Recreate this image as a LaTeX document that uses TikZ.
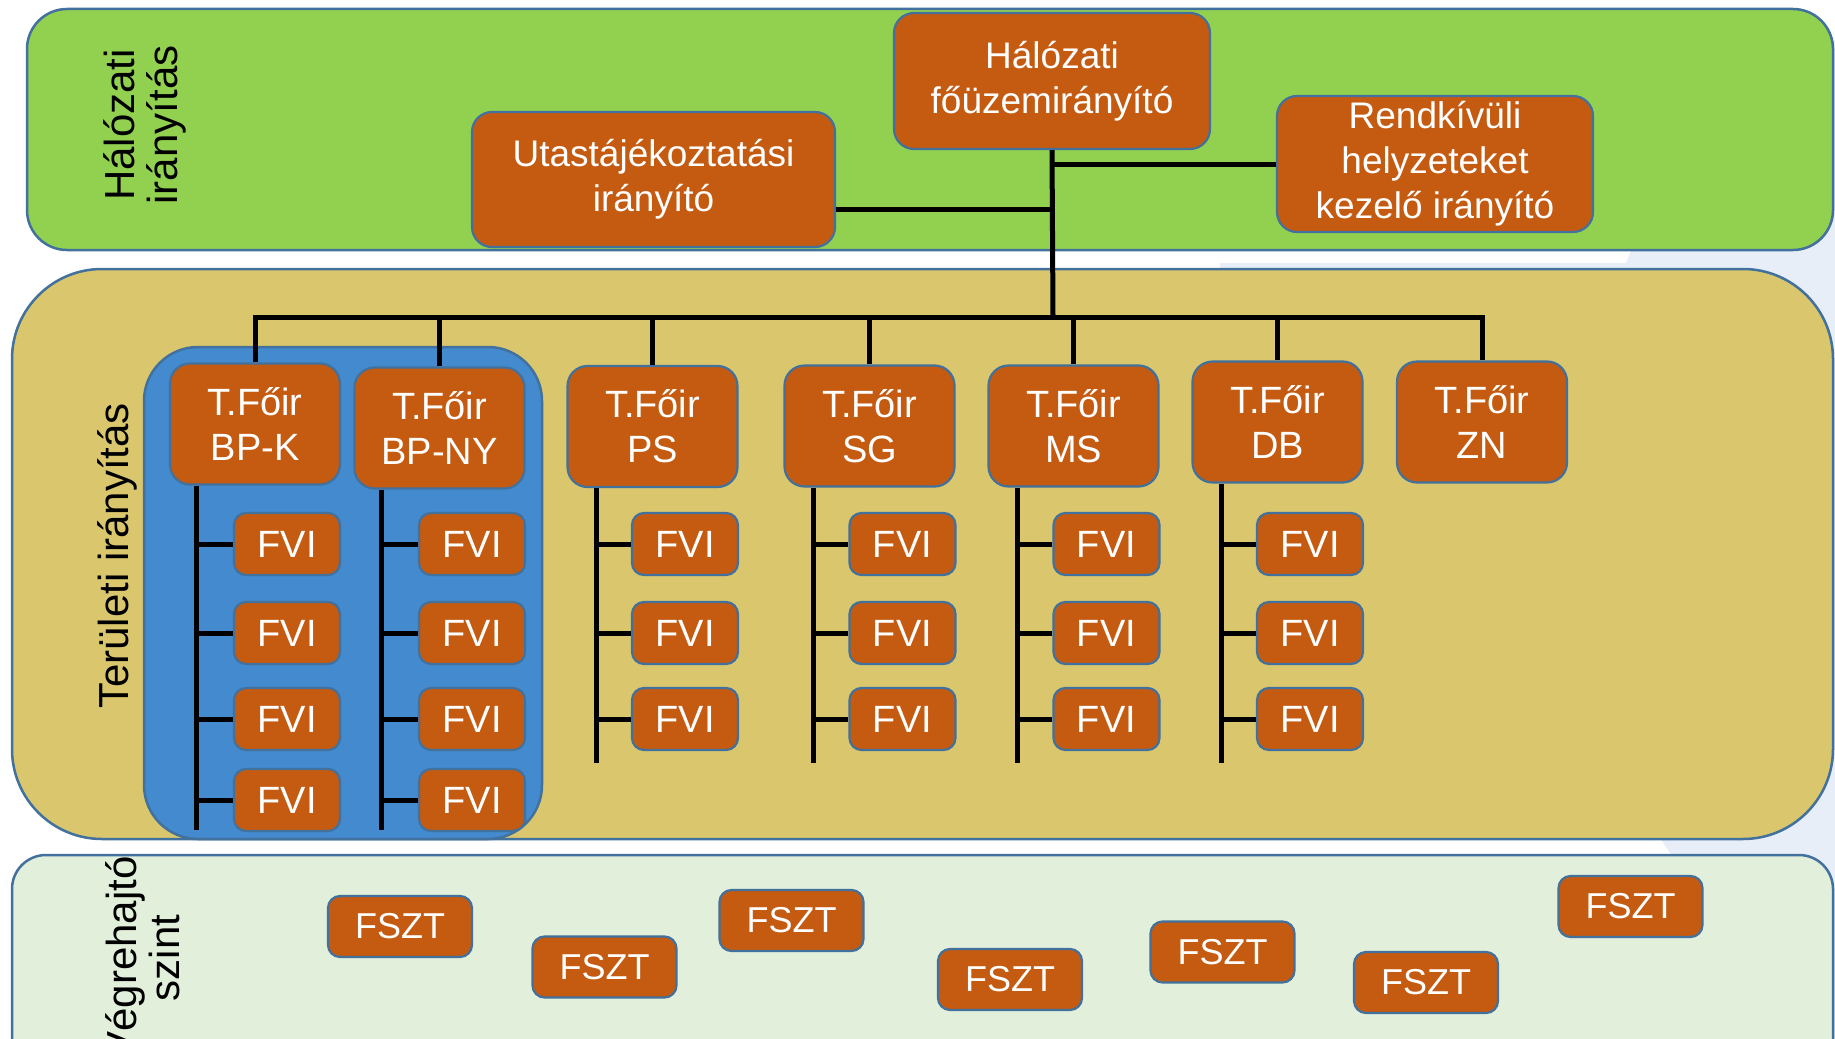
\documentclass[tikz,border=0pt]{standalone}
\usepackage{fontspec}
\setmainfont{Liberation Sans}
\definecolor{bord}{HTML}{41719C}
\definecolor{orng}{HTML}{C55A11}
\definecolor{grn}{HTML}{92D050}
\definecolor{ylw}{HTML}{DAC66C}
\definecolor{lgrn}{HTML}{E2EFDA}
\definecolor{blu}{HTML}{448ACF}
\definecolor{lbg}{HTML}{E8EEF7}
\begin{document}
\begin{tikzpicture}[x=0.5pt,y=-0.5pt,
  panel/.style={draw=bord, line width=1.25pt},
  box/.style={draw=bord, fill=orng, line width=1.1pt, text=white, inner sep=0pt, align=center, font=\fontsize{18.5}{22.5}\selectfont},
  topbox/.style={box, minimum width=158pt, minimum height=68pt, rounded corners=10pt},
  reg/.style={box, minimum width=85pt, minimum height=60.5pt, rounded corners=10pt, font=\fontsize{19}{22.5}\selectfont},
  fvi/.style={box, minimum width=53pt, minimum height=31pt, rounded corners=6pt, font=\fontsize{19}{22.5}\selectfont},
  fszt/.style={box, minimum width=72pt, minimum height=30.5pt, rounded corners=6pt, font=\fontsize{18}{22.5}\selectfont},
  conn/.style={draw=black, line width=2.5pt},
  lbl/.style={font=\fontsize{21}{21.5}\selectfont, rotate=90, align=center, text=black, inner sep=0pt}
]
\useasboundingbox (0,0) rectangle (1835,1038);
\clip (0,0) rectangle (1835,1038);
\fill[white] (0,0) rectangle (1835,1038);
% light background shape
\fill[lbg] (1220,263) -- (1626,263) -- (1632,248) -- (1835,40) -- (1835,1038) -- (1700,1038) -- (1672,856) -- (1660,838) -- (1500,560) -- (1624,268) -- (1220,268) -- cycle;
% panels
\filldraw[panel, fill=grn, rounded corners=20pt] (27,9) rectangle (1833,250);
\filldraw[panel, fill=ylw, rounded corners=45pt] (12,269) rectangle (1833,839);
\filldraw[panel, fill=lgrn, rounded corners=17pt] (12,855) rectangle (1833,1100);
\filldraw[panel, fill=blu, rounded corners=27pt] (144,347) rectangle (542,839);
% level labels
\node[lbl] (l1) at (145,125) {Hálózati\\irányítás};
\node[lbl] (l2) at (117,556) {Területi irányítás};
\node[lbl] (l3) at (143,958) {Végrehajtó\\szint};
% top level
\node[topbox] (haloz) at (1052,81) {Hálózati\\főüzemirányító};
\node[topbox, minimum width=181.5pt, minimum height=67.5pt] (utas) at (653.5,179.5) {Utastájékoztatási\\irányító};
\node[topbox] (rend) at (1435,164) {Rendkívüli\\helyzeteket\\kezelő irányító};
% regional
\node[reg] (bpk) at (255,424) {T.Főir\\BP-K};
\node[reg] (bpny) at (439.5,428) {T.Főir\\BP-NY};
\node[reg] (ps) at (652.5,426.5) {T.Főir\\PS};
\node[reg] (sg) at (869.5,426) {T.Főir\\SG};
\node[reg] (ms) at (1073.5,426) {T.Főir\\MS};
\node[reg] (db) at (1277.5,422) {T.Főir\\DB};
\node[reg] (zn) at (1482,422) {T.Főir\\ZN};
% connectors top
\coordinate (bus) at (1053,317);
\coordinate (uj) at (1053,209);
\draw[conn] (haloz.south) -- (bus);
\draw[conn] (rend.west) -- (rend.west -| haloz.south);
\draw[conn] (uj -| utas.east) -- (uj);
\draw[conn] (bpk.north) -- (bpk.north |- bus) -- (zn.north |- bus) -- (zn.north);
\foreach \c in {bpny,ps,sg,ms,db} {
  \draw[conn] (\c.north) -- (\c.north |- bus);
}
% FVI columns
\foreach \c/\sx/\fx/\n in {bpk/196.5/287/4, bpny/381.5/472/4, ps/596/685/3, sg/813/902.5/3, ms/1017/1106.5/3, db/1221/1310/3} {
  \foreach \y [count=\i] in {544,633,719,800} {
    \ifnum\i>\n\relax\else
      \node[fvi] (\c-f\i) at (\fx,\y) {FVI};
      \draw[conn] (\c-f\i.west) -- (\c-f\i.west -| \sx,0);
    \fi
  }
  \ifnum\n=4 \def\ey{830}\else\def\ey{763}\fi
  \coordinate (\c-s) at (\sx,\ey);
  \draw[conn] (\c.south -| \sx,0) -- (\c-s);
}
% FSZT
\node[fszt] (fs1) at (400,926.5) {FSZT};
\node[fszt] (fs2) at (604.5,967) {FSZT};
\node[fszt] (fs3) at (791.5,920.5) {FSZT};
\node[fszt] (fs4) at (1010,979.5) {FSZT};
\node[fszt] (fs5) at (1222.5,952) {FSZT};
\node[fszt] (fs6) at (1426,982.5) {FSZT};
\node[fszt] (fs7) at (1630.5,906.5) {FSZT};
\end{tikzpicture}
\end{document}
